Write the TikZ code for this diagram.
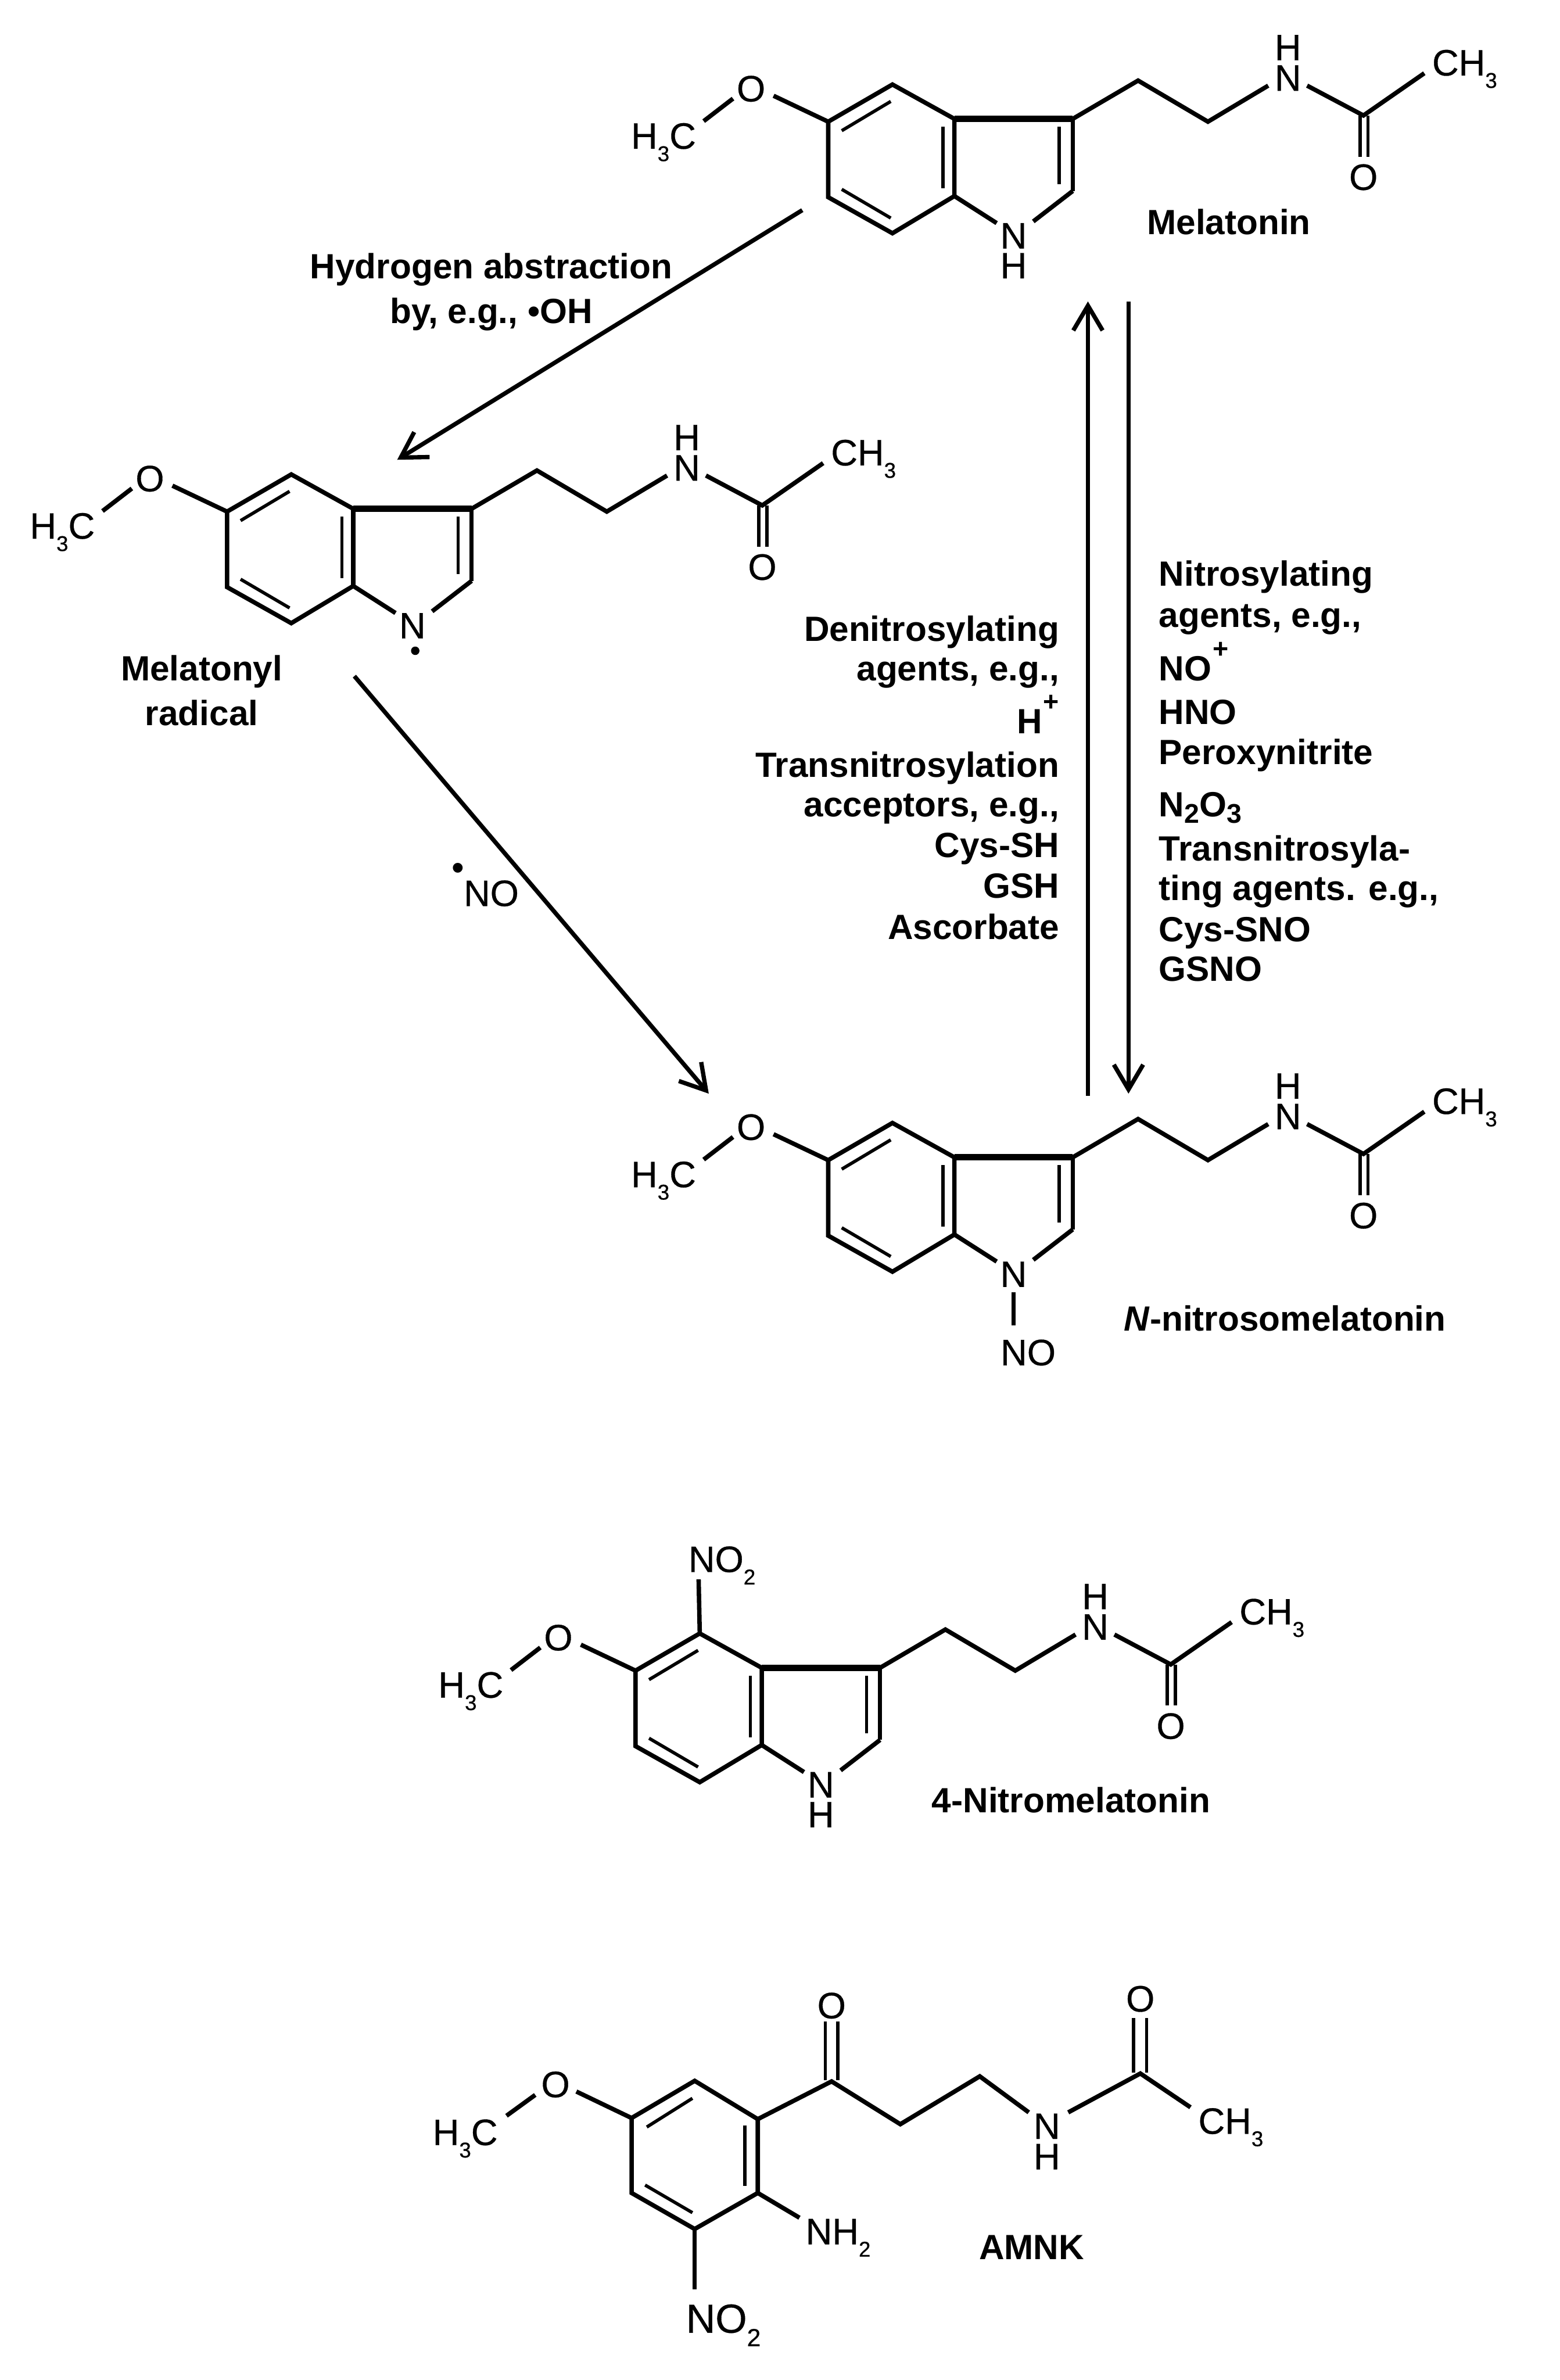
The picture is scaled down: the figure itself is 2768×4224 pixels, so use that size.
\documentclass[tikz,border=0pt]{standalone}
\usepackage{fontspec}
\setmainfont{Liberation Sans}
\newfontfamily\atomfont[FakeBold=0.5]{Liberation Sans}
\usetikzlibrary{arrows.meta}
% 1 px of the reference = 0.25pt
\newcommand\atomsub[1]{\raisebox{-5.5pt}{\fontsize{9.5}{9.5}\selectfont #1}}
\newcommand\labsub[1]{\raisebox{-3pt}{\fontsize{12}{12}\selectfont #1}}
\newcommand\labsup[1]{\raisebox{10pt}{\fontsize{12}{12}\selectfont\kern0.5pt #1}}
\tikzset{
  bond/.style={line width=1.95pt,line cap=butt,line join=miter},
  innerbond/.style={line width=1.45pt},
  wedge/.style={line width=2.9pt},
  atom/.style={font=\atomfont\fontsize{16.3}{16.3}\selectfont,inner sep=0pt,outer sep=0pt,anchor=base},
  atomw/.style={atom,anchor=base west},
  bigatom/.style={font=\atomfont\fontsize{18}{18}\selectfont,inner sep=0pt,anchor=base west},
  lab/.style={font=\fontsize{15.55}{15.55}\bfseries\selectfont,inner sep=0pt,outer sep=0pt,anchor=base},
  labr/.style={lab,anchor=base east},
  labl/.style={lab,anchor=base west},
  rxn/.style={line width=1.9pt,-{Straight Barb[length=11pt,width=13pt,line width=1.9pt]}},
}
% indole skeleton with side chain; #1 name prefix
\newcommand\indolemol[1]{%
  \coordinate (#1c6) at (1470,216);
  \coordinate (#1c5) at (1584,150);
  \coordinate (#1c4) at (1694,211);
  \coordinate (#1c3) at (1904,211);
  \coordinate (#1c7a) at (1694,348);
  \coordinate (#1c8) at (1584,414);
  \coordinate (#1c9) at (1470,350);
  \coordinate (#1c2) at (1904,339);
  \coordinate (#1ch1) at (2020,143);
  \coordinate (#1ch2) at (2144,216);
  \coordinate (#1cc) at (2420,205);
  \node[atom] (#1o1) at (1333,180) {O};
  \node[atomw] (#1me) at (1120,264) {H\atomsub{3}C};
  \node[atom] (#1nh) at (2286,161) {N};
  \node[atom] (#1h) at (2286,107) {H};
  \node[atomw] (#1ch3) at (2542,134) {CH\atomsub{3}};
  \node[atom] (#1o2) at (2420,337) {O};
  \draw[bond] (#1c9) -- (#1c6) -- (#1c5) -- (#1c4) -- (#1c7a) -- (#1c8) -- cycle;
  \draw[wedge] (#1c4) -- (#1c3);
  \draw[bond] (#1c3) -- (#1c2);
  \draw[innerbond] (1494,232) -- (1581,180);
  \draw[innerbond] (1674,225) -- (1674,334);
  \draw[innerbond] (1880,225) -- (1880,327);
  \draw[innerbond] (1494,336) -- (1581,387);
  \draw[bond] (#1c6) -- (1373,170);
  \draw[bond] (1301,175) -- (1249,215);
  \draw[bond,line join=miter] (#1c3) -- (#1ch1) -- (#1ch2) -- (2251,152);
  \draw[bond] (2320,152) -- (#1cc) -- (2528,130);
  \draw[innerbond] (2414,205) -- (2414,278);
  \draw[innerbond] (2428,205) -- (2428,278);
}
\begin{document}
\begin{tikzpicture}[x=0.25pt,y=-0.25pt]
\useasboundingbox (0,0) rectangle (2768,4224);
% Melatonin
\begin{scope}
  \indolemol{a}
  \node[atom] (an) at (1799,441) {N};
  \node[atom] (ah) at (1799,494) {H};
  \draw[bond] (ac7a) -- (1769,396);
  \draw[bond] (ac2) -- (1834,393);
  \node[labl] (alab) at (2036,416) {Melatonin};
\end{scope}
% Melatonyl radical
\begin{scope}[shift={(-1067,692)}]
  \indolemol{b}
  \node[atom] (bn) at (1799,441) {N};
  \draw[bond] (bc7a) -- (1769,396);
  \draw[bond] (bc2) -- (1834,393);
  \fill (1804,463) circle[radius=7.5] coordinate (brad);
\end{scope}
\node[lab] (blab1) at (358,1208) {Melatonyl};
\node[lab] (blab2) at (358,1287) {radical};
% N-nitrosomelatonin
\begin{scope}[shift={(0,1843)}]
  \indolemol{c}
  \node[atom] (cn) at (1799,441) {N};
  \draw[bond] (cc7a) -- (1769,396);
  \draw[bond] (cc2) -- (1834,393);
\end{scope}
\node[atomw] (cno) at (1776,2423) {NO};
\draw[bond] (1799,2293) -- (1799,2352);
\node[labl] (clab) at (1995,2362) {\textit{N}-nitrosomelatonin};
% 4-Nitromelatonin
\begin{scope}[shift={(-342,2749)}]
  \indolemol{d}
  \node[atom] (dn) at (1799,441) {N};
  \node[atom] (dh) at (1799,494) {H};
  \draw[bond] (dc7a) -- (1769,396);
  \draw[bond] (dc2) -- (1834,393);
\end{scope}
\node[atomw] (dno) at (1222,2790) {NO\atomsub{2}};
\draw[bond] (dc5) -- (1240,2803);
\node[labl] (dlab) at (1654,3217) {4-Nitromelatonin};
% AMNK
\coordinate (e1) at (1121,3759);
\coordinate (e2) at (1233,3693);
\coordinate (e3) at (1345,3761);
\coordinate (e4) at (1345,3892);
\coordinate (e5) at (1233,3956);
\coordinate (e6) at (1121,3892);
\coordinate (e7) at (1476,3694);
\coordinate (e8) at (1598,3770);
\coordinate (e9) at (1739,3685);
\coordinate (e10) at (2024,3680);
\draw[bond] (e6) -- (e1) -- (e2) -- (e3) -- (e4) -- (e5) -- cycle;
\draw[innerbond] (1148,3775) -- (1229,3724);
\draw[innerbond] (1322,3772) -- (1322,3879);
\draw[innerbond] (1145,3878) -- (1229,3927);
\node[atom] (eo1) at (986,3722) {O};
\node[atomw] (eme) at (768,3807) {H\atomsub{3}C};
\draw[bond] (e1) -- (1023,3712);
\draw[bond] (950,3718) -- (899,3755);
\draw[bond] (e3) -- (e7) -- (e8) -- (e9) -- (1826,3749);
\node[atom] (eo2) at (1476,3582) {O};
\draw[innerbond] (1465,3692) -- (1465,3588);
\draw[innerbond] (1487,3692) -- (1487,3588);
\node[atom] (en) at (1858,3796) {N};
\node[atom] (eh) at (1858,3850) {H};
\draw[bond] (1896,3749) -- (e10) -- (2113,3740);
\node[atom] (eo3) at (2024,3570) {O};
\draw[innerbond] (2012,3678) -- (2012,3581);
\draw[innerbond] (2035,3678) -- (2035,3581);
\node[atomw] (ech3) at (2127,3787) {CH\atomsub{3}};
\draw[bond] (e4) -- (1419,3936);
\node[atomw] (enh2) at (1430,3983) {NH\atomsub{2}};
\draw[bond] (e5) -- (1233,4063);
\node[bigatom] (eno2) at (1217,4140) {NO\raisebox{-6pt}{\fontsize{11}{11}\selectfont 2}};
\node[lab] (elab) at (1831,4010) {AMNK};
% Reactions
\coordinate (r1a) at (1424,373);
\coordinate (r1b) at (705,816);
\coordinate (r2a) at (629,1200);
\coordinate (r2b) at (1258,1941);
\coordinate (r3a) at (1931,1945);
\coordinate (r3b) at (1931,535);
\coordinate (r4a) at (2003,535);
\coordinate (r4b) at (2003,1941);
\draw[rxn] (r1a) -- (r1b);
\draw[rxn] (r2a) -- (r2b);
\draw[rxn] (r3a) -- (r3b);
\draw[rxn] (r4a) -- (r4b);
% Labels
\node[lab] (t1) at (872,495) {Hydrogen abstraction};
\node[lab] (t2) at (872,574) {by, e.g., •OH};
\node[atom,font=\fontsize{16}{16}\selectfont,anchor=center] (t3d) at (813,1547) {•};
\node[atomw] (t3) at (823,1608) {NO};
\node[labr] (l1) at (1880,1138) {Denitrosylating};
\node[labr] (l2) at (1880,1208) {agents, e.g.,};
\node[labr] (l3) at (1880,1302) {H\labsup{+}};
\node[labr] (l4) at (1880,1379) {Transnitrosylation};
\node[labr] (l5) at (1880,1449) {acceptors, e.g.,};
\node[labr] (l6) at (1880,1522) {Cys-SH};
\node[labr] (l7) at (1880,1594) {GSH};
\node[labr] (l8) at (1880,1667) {Ascorbate};
\node[labl] (r1) at (2057,1040) {Nitrosylating};
\node[labl] (r2) at (2057,1113) {agents, e.g.,};
\node[labl] (r3) at (2057,1208) {NO\labsup{+}};
\node[labl] (r4) at (2057,1285) {HNO};
\node[labl] (r5) at (2057,1357) {Peroxynitrite};
\node[labl] (r6) at (2057,1449) {N\labsub{2}O\labsub{3}};
\node[labl] (r7) at (2057,1528) {Transnitrosyla-};
\node[labl] (r8) at (2057,1598) {ting agents. e.g.,};
\node[labl] (r9) at (2057,1671) {Cys-SNO};
\node[labl] (r10) at (2057,1741) {GSNO};
\end{tikzpicture}
\end{document}
